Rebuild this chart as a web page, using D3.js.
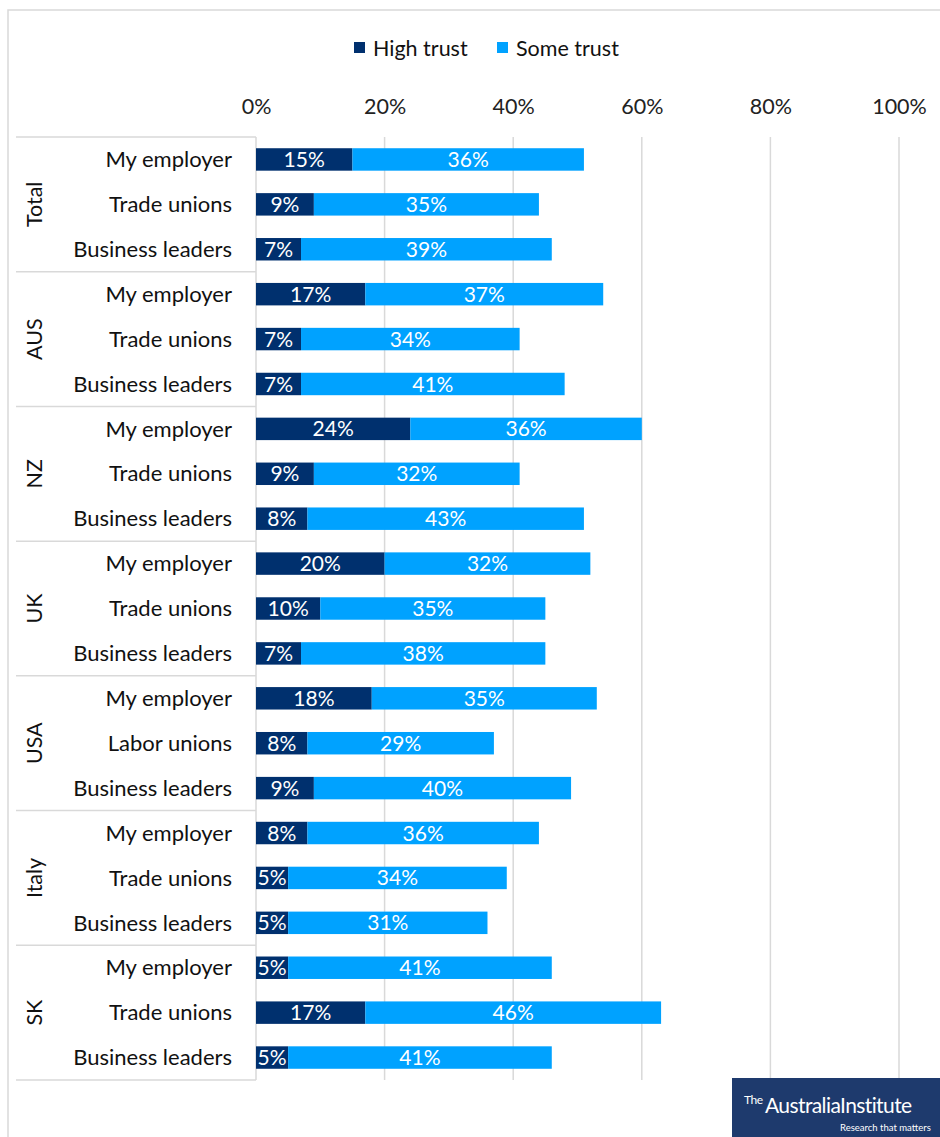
<!DOCTYPE html>
<html>
<head>
<meta charset="utf-8">
<script src="https://cdn.jsdelivr.net/npm/d3@7"></script>
<style>
  html, body { margin: 0; padding: 0; background: #fff; }
  svg { display: block; font-family: Lato, "Open Sans", sans-serif; }
</style>
</head>
<body>
<svg id="chart" width="940" height="1137"></svg>
<script>
// Trust in institutions, by country
const groups = ["Total", "AUS", "NZ", "UK", "USA", "Italy", "SK"];
const institutions = [
  ["My employer", "Trade unions", "Business leaders"],
  ["My employer", "Trade unions", "Business leaders"],
  ["My employer", "Trade unions", "Business leaders"],
  ["My employer", "Trade unions", "Business leaders"],
  ["My employer", "Labor unions", "Business leaders"],
  ["My employer", "Trade unions", "Business leaders"],
  ["My employer", "Trade unions", "Business leaders"]
];
const highTrust = [
  [15, 9, 7],
  [17, 7, 7],
  [24, 9, 8],
  [20, 10, 7],
  [18, 8, 9],
  [8, 5, 5],
  [5, 17, 5]
];
const someTrust = [
  [36, 35, 39],
  [37, 34, 41],
  [36, 32, 43],
  [32, 35, 38],
  [35, 29, 40],
  [36, 34, 31],
  [41, 46, 41]
];
const seriesNames = ["High trust", "Some trust"];
const tickValues = [0, 20, 40, 60, 80, 100];

const colors = { "High trust": "#00306E", "Some trust": "#00A2FF" };
const gridColor = "#d9d9d9";

// flatten into rows
const rows = [];
groups.forEach((g, gi) => {
  institutions[gi].forEach((name, i) => {
    rows.push({ id: gi + "-" + i, group: g, name, high: highTrust[gi][i], some: someTrust[gi][i] });
  });
});

const svg = d3.select("#chart");
const plotTop = 137, plotBottom = 1080;
const x = d3.scaleLinear().domain([0, 100]).range([256, 899]);
const y = d3.scaleBand().domain(rows.map(r => r.id)).range([plotTop, plotBottom]).paddingInner(0.5).paddingOuter(0.25);

// outer frame
svg.append("path")
  .attr("d", "M8,1137 V10 H940")
  .attr("fill", "none").attr("stroke", gridColor).attr("stroke-width", 1.5);

// gridlines
svg.append("g").selectAll("line").data(tickValues.slice(1)).join("line")
  .attr("x1", d => x(d)).attr("x2", d => x(d))
  .attr("y1", plotTop).attr("y2", plotBottom)
  .attr("stroke", gridColor).attr("stroke-width", 1.5);

// top axis labels
const axis = d3.axisTop(x).tickValues(tickValues).tickFormat(d => d + "%").tickSize(0).tickPadding(0);
const axG = svg.append("g").attr("transform", "translate(0,114)").call(axis);
axG.select(".domain").remove();
axG.selectAll("text").attr("font-size", 21.5).attr("fill", "#222").attr("font-family", "Lato, sans-serif");

// category axis line
svg.append("line").attr("x1", x(0)).attr("x2", x(0)).attr("y1", plotTop).attr("y2", plotBottom)
  .attr("stroke", gridColor).attr("stroke-width", 1.5);

// group separators
const groupBounds = groups.map((g, gi) => plotTop + gi * 3 * (plotBottom - plotTop) / 21);
groupBounds.push(plotBottom);
svg.append("g").selectAll("line").data(groupBounds).join("line")
  .attr("x1", 16).attr("x2", x(0))
  .attr("y1", d => d).attr("y2", d => d)
  .attr("stroke", gridColor).attr("stroke-width", 1.5);

// group labels (rotated)
svg.append("g").selectAll("text").data(groups).join("text")
  .attr("transform", (g, gi) => {
    const cy = (groupBounds[gi] + groupBounds[gi + 1]) / 2;
    return `translate(42,${cy}) rotate(-90)`;
  })
  .attr("text-anchor", "middle")
  .attr("font-size", 21.5).attr("fill", "#111")
  .text(d => d);

// category labels
svg.append("g").selectAll("text").data(rows).join("text")
  .attr("x", 232).attr("y", d => y(d.id) + y.bandwidth() / 2)
  .attr("dy", "0.35em").attr("text-anchor", "end")
  .attr("font-size", 22).attr("fill", "#111")
  .text(d => d.name);

// stacked bars
const bars = svg.append("g");
bars.selectAll("rect.high").data(rows).join("rect").attr("class", "high")
  .attr("x", x(0)).attr("y", d => y(d.id))
  .attr("width", d => x(d.high) - x(0)).attr("height", y.bandwidth())
  .attr("fill", colors["High trust"]);
bars.selectAll("rect.some").data(rows).join("rect").attr("class", "some")
  .attr("x", d => x(d.high)).attr("y", d => y(d.id))
  .attr("width", d => x(d.high + d.some) - x(d.high)).attr("height", y.bandwidth())
  .attr("fill", colors["Some trust"]);

// value labels
const labels = svg.append("g").attr("fill", "#fff").attr("font-size", 21).attr("text-anchor", "middle");
labels.selectAll("text.h").data(rows).join("text").attr("class", "h")
  .attr("x", d => (x(0) + x(d.high)) / 2).attr("y", d => y(d.id) + y.bandwidth() / 2)
  .attr("dy", "0.36em").text(d => d.high + "%");
labels.selectAll("text.s").data(rows).join("text").attr("class", "s")
  .attr("x", d => (x(d.high) + x(d.high + d.some)) / 2).attr("y", d => y(d.id) + y.bandwidth() / 2)
  .attr("dy", "0.36em").text(d => d.some + "%");

// legend
const legend = svg.append("g").attr("font-size", 21.5).attr("fill", "#111");
const legendItems = [{ name: seriesNames[0], x: 354 }, { name: seriesNames[1], x: 497 }];
legendItems.forEach(it => {
  legend.append("rect").attr("x", it.x).attr("y", 42).attr("width", 11).attr("height", 11).attr("fill", colors[it.name]);
  legend.append("text").attr("x", it.x + 19).attr("y", 48).attr("dy", "0.35em").text(it.name);
});

// publisher badge
const logo = svg.append("g").attr("fill", "#fff").attr("font-family", "Lato, sans-serif");
logo.append("rect").attr("x", 732).attr("y", 1078).attr("width", 208).attr("height", 59).attr("fill", "#1E3A6D");
logo.append("text").attr("x", 744).attr("y", 1104).attr("font-size", 12).attr("letter-spacing", -0.5).text("The");
logo.append("text").attr("x", 765).attr("y", 1113).attr("font-size", 21).attr("letter-spacing", -0.6).text("AustraliaInstitute");
logo.append("text").attr("x", 840).attr("y", 1131).attr("font-size", 9.5).text("Research that matters");
</script>
</body>
</html>
